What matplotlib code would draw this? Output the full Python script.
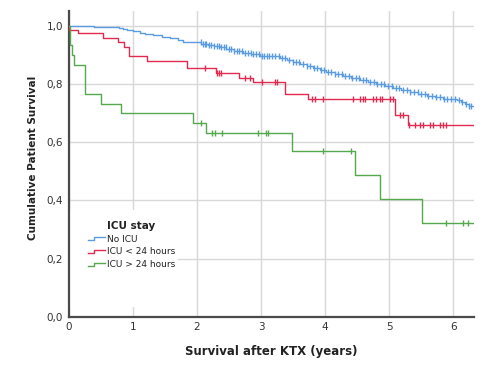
import numpy as np
import matplotlib
matplotlib.use("Agg")
import matplotlib.pyplot as plt
from matplotlib.legend_handler import HandlerBase
from matplotlib.lines import Line2D
from matplotlib.patches import Rectangle
from matplotlib.ticker import FuncFormatter

# ---------------- data ----------------
groups = ["No ICU", "ICU < 24 hours", "ICU > 24 hours"]
end_time = 6.32

blue_t = [0, 0.20, 0.39, 0.60, 0.78, 0.85, 0.91, 1.00, 1.11, 1.20,
          1.32, 1.45, 1.58, 1.70, 1.79, 2.07, 2.18, 2.26, 2.36, 2.46,
          2.58, 2.72, 2.85, 2.98, 3.30, 3.40, 3.50, 3.61, 3.71, 3.81,
          3.92, 4.02, 4.15, 4.28, 4.41, 4.54, 4.67, 4.80, 4.93, 5.06,
          5.19, 5.32, 5.45, 5.58, 5.71, 5.84, 6.05, 6.12, 6.18, 6.24]
blue_s = [1.0, 0.998, 0.997, 0.995, 0.993, 0.989, 0.985, 0.981, 0.976, 0.972,
          0.968, 0.962, 0.957, 0.950, 0.943, 0.939, 0.935, 0.931, 0.926, 0.920,
          0.914, 0.907, 0.902, 0.897, 0.891, 0.882, 0.875, 0.868, 0.861, 0.854,
          0.848, 0.842, 0.835, 0.827, 0.820, 0.813, 0.806, 0.800, 0.792, 0.785,
          0.779, 0.773, 0.766, 0.758, 0.754, 0.750, 0.745, 0.739, 0.733, 0.726]
blue_cens = [2.06, 2.09, 2.12, 2.15, 2.19, 2.22, 2.27, 2.31, 2.34, 2.38,
             2.42, 2.45, 2.50, 2.53, 2.58, 2.62, 2.66, 2.70, 2.75, 2.79,
             2.84, 2.88, 2.93, 2.97, 3.01, 3.05, 3.09, 3.12, 3.17, 3.22,
             3.28, 3.33, 3.38, 3.44, 3.50, 3.55, 3.60, 3.66, 3.71, 3.76,
             3.82, 3.87, 3.93, 3.98, 4.04, 4.09, 4.15, 4.20, 4.26, 4.31,
             4.37, 4.42, 4.48, 4.53, 4.59, 4.64, 4.70, 4.76, 4.81, 4.87,
             4.92, 4.98, 5.04, 5.10, 5.15, 5.21, 5.27, 5.33, 5.38, 5.44,
             5.50, 5.56, 5.61, 5.67, 5.73, 5.79, 5.85, 5.90, 5.96, 6.02,
             6.08, 6.13, 6.19, 6.24, 6.28]

red_t = [0, 0.01, 0.15, 0.53, 0.77, 0.86, 0.94, 1.22, 1.85, 2.30,
         2.66, 2.88, 3.38, 3.74, 5.09, 5.29]
red_s = [1.0, 0.986, 0.975, 0.958, 0.944, 0.926, 0.897, 0.880, 0.854, 0.838,
         0.821, 0.806, 0.765, 0.747, 0.695, 0.660]
red_cens = [2.13, 2.32, 2.35, 2.37, 2.75, 2.83, 3.01, 3.22, 3.25, 3.80,
            3.84, 3.97, 4.44, 4.54, 4.59, 4.62, 4.75, 4.80, 4.85, 4.88,
            5.01, 5.05, 5.16, 5.21, 5.31, 5.40, 5.48, 5.53, 5.63, 5.68,
            5.79, 5.84, 5.89]

green_t = [0, 0.02, 0.03, 0.05, 0.08, 0.25, 0.50, 0.82, 1.94, 2.15,
           3.49, 4.47, 4.85, 5.51]
green_s = [1.0, 0.967, 0.933, 0.900, 0.867, 0.767, 0.733, 0.700, 0.667, 0.632,
           0.569, 0.486, 0.406, 0.324]
green_cens = [2.07, 2.23, 2.28, 2.39, 2.96, 3.08, 3.11, 3.97, 4.40, 5.89,
              6.15, 6.23]

x_ticks = [0, 1, 2, 3, 4, 5, 6]
y_ticks = [0.0, 0.2, 0.4, 0.6, 0.8, 1.0]

colors = ["#5b9be3", "#e2294f", "#55a84c"]

# ---------------- figure ----------------
fig = plt.figure(figsize=(5.0, 3.65), dpi=100)
ax = fig.add_axes([0.137, 0.132, 0.811, 0.837])
ax.set_xlim(0, end_time)
ax.set_ylim(0, 1.05)
ax.set_axisbelow(True)
ax.grid(True, color="#d8d8d8", lw=1.0)

series = [(blue_t, blue_s, blue_cens), (red_t, red_s, red_cens),
          (green_t, green_s, green_cens)]
handles = []
for (t, s, c), col, name in zip(series, colors, groups):
    t = np.asarray(t); s = np.asarray(s)
    xs = np.append(t, end_time)
    ys = np.append(s, s[-1])
    ln, = ax.plot(xs, ys, drawstyle="steps-post", color=col, lw=1.0,
                  zorder=3, label=name)
    handles.append(ln)
    c = np.asarray(c)
    cy = s[np.searchsorted(t, c, side="right") - 1]
    ax.plot(c, cy, ls="none", marker="|", ms=4.5, mew=1.0, color=col,
            zorder=3)

for sp in ["top", "right"]:
    ax.spines[sp].set_visible(False)
for sp in ["left", "bottom"]:
    ax.spines[sp].set_color("#4a4a4a")
    ax.spines[sp].set_linewidth(1.6)

ax.set_xticks(x_ticks)
ax.set_yticks(y_ticks)
ax.yaxis.set_major_formatter(FuncFormatter(lambda v, p: f"{v:.1f}".replace(".", ",")))
ax.tick_params(length=0, labelsize=7.5, labelcolor="#333333", pad=4)

ax.set_xlabel("Survival after KTX (years)", fontsize=8.5, fontweight="bold",
              color="#222222", va="center")
ax.xaxis.set_label_coords(0.5, -0.115)
ax.set_ylabel("Cumulative Patient Survival", fontsize=7.5, fontweight="bold",
              color="#222222", va="center")
ax.yaxis.set_label_coords(-0.088, 0.52)

# white legend box
ax.add_patch(Rectangle((0.003, 0.032), 0.267, 0.317, transform=ax.transAxes,
                       facecolor="white", edgecolor="none", zorder=1))


class StepHandler(HandlerBase):
    def create_artists(self, legend, orig_handle, xdescent, ydescent, width,
                       height, fontsize, trans):
        xs = np.array([0, 0.38, 0.38, 1.0]) * width - xdescent
        ys = np.array([0.2, 0.2, 0.75, 0.75]) * height - ydescent
        line = Line2D(xs, ys, color=orig_handle.get_color(), lw=1.0)
        line.set_transform(trans)
        return [line]


leg = ax.legend(handles=handles, labels=groups, title="ICU stay",
                loc="upper left", bbox_to_anchor=(0.047, 0.314),
                frameon=False, fontsize=6.5, handlelength=1.9,
                handletextpad=0.3, labelspacing=0.42, borderpad=0,
                borderaxespad=0,
                handler_map={Line2D: StepHandler()})
leg.get_title().set_fontweight("bold")
leg.get_title().set_fontsize(7.5)
leg.get_title().set_color("#222222")
for txt in leg.get_texts():
    txt.set_color("#222222")
leg.set_zorder(5)

fig.savefig("out.png", dpi=100)
